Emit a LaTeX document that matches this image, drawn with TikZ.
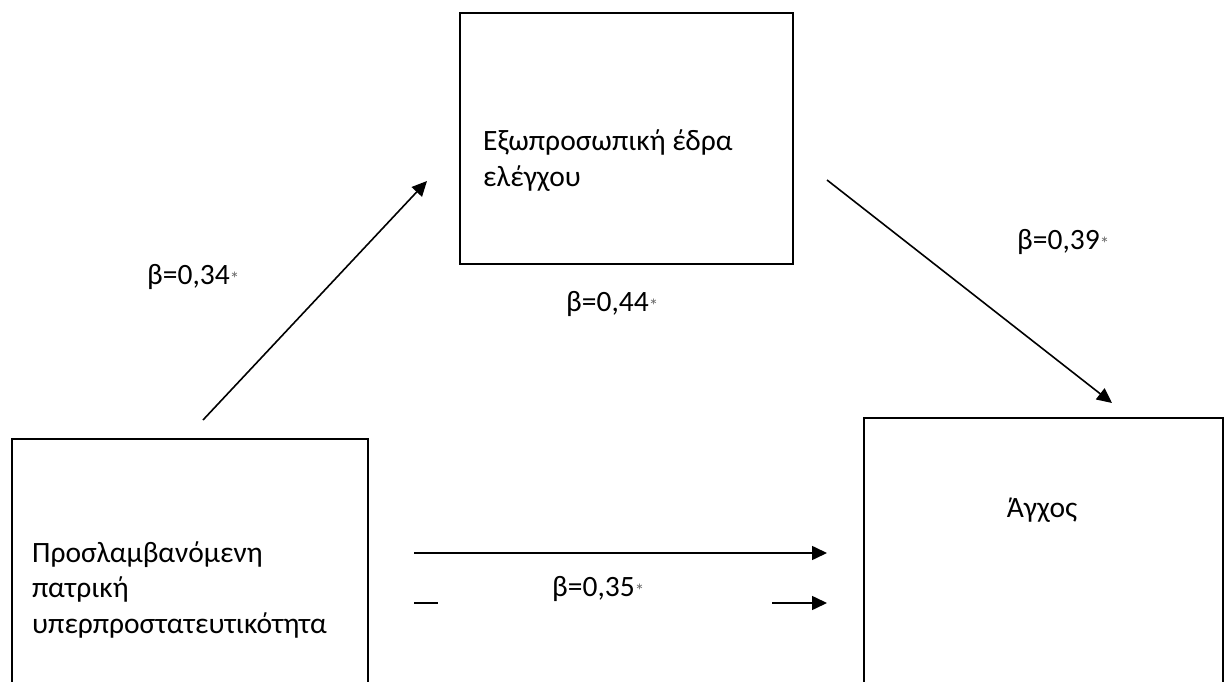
\documentclass[tikz,border=0pt]{standalone}
\usepackage{fontspec}
\setmainfont{Carlito}
\usetikzlibrary{arrows.meta,calc}
\newcommand\sigstar{\textcolor{black!60}{\fontsize{19}{19}\selectfont\raisebox{-1pt}{*}}}
\begin{document}
\begin{tikzpicture}[x=1pt,y=-1pt,
  box/.style={draw, line width=1.6pt, inner sep=0pt, anchor=north west},
  lbl/.style={inner sep=0pt, anchor=base west, font=\fontsize{29.5}{35.5}\selectfont},
  conn/.style={line width=1.6pt, -{Triangle[length=15pt,width=14pt]}},
  plain/.style={line width=1.6pt}]
\useasboundingbox (0,0) rectangle (1227,682);
\clip (0,0) rectangle (1227,682);
% boxes
\node[box, minimum width=333pt, minimum height=251pt] (med) at (459,12) {};
\node[box, minimum width=356pt, minimum height=300pt] (pred) at (11,438) {};
\node[box, minimum width=359pt, minimum height=300pt] (out) at (863,417) {};
% box texts (base = baseline of last line)
\node[lbl, align=left] (medtxt) at (483,186) {Εξωπροσωπική έδρα\\ελέγχου};
\node[lbl, align=left] (predtxt) at (32,633) {Προσλαμβανόμενη\\πατρική\\υπερπροστατευτικότητα};
\node[lbl, anchor=base] (outtxt) at (1042,517) {Άγχος};
% connector end points
\coordinate (a1s) at (203,420);
\coordinate (a1e) at (427,181);
\coordinate (a2s) at (827,180);
\coordinate (a2e) at (1112,403);
\coordinate (h1s) at (414,553);
\coordinate (h1e) at (827,553);
\coordinate (d1s) at (414,603);
\coordinate (d1e) at (438,603);
\coordinate (h2s) at (772,603);
\coordinate (h2e) at (827,603);
% connectors
\draw[conn] (a1s) -- (a1e);
\draw[conn] (a2s) -- (a2e);
\draw[conn] (h1s) -- (h1e);
\draw[plain] (d1s) -- (d1e);
\draw[conn] (h2s) -- (h2e);
% coefficient labels
\node[lbl] (b34) at (147,284) {β=0,34\sigstar};
\node[lbl] (b44) at (566,311) {β=0,44\sigstar};
\node[lbl] (b39) at (1017,249) {β=0,39\sigstar};
\node[lbl] (b35) at (552,596) {β=0,35\sigstar};
\end{tikzpicture}
\end{document}
